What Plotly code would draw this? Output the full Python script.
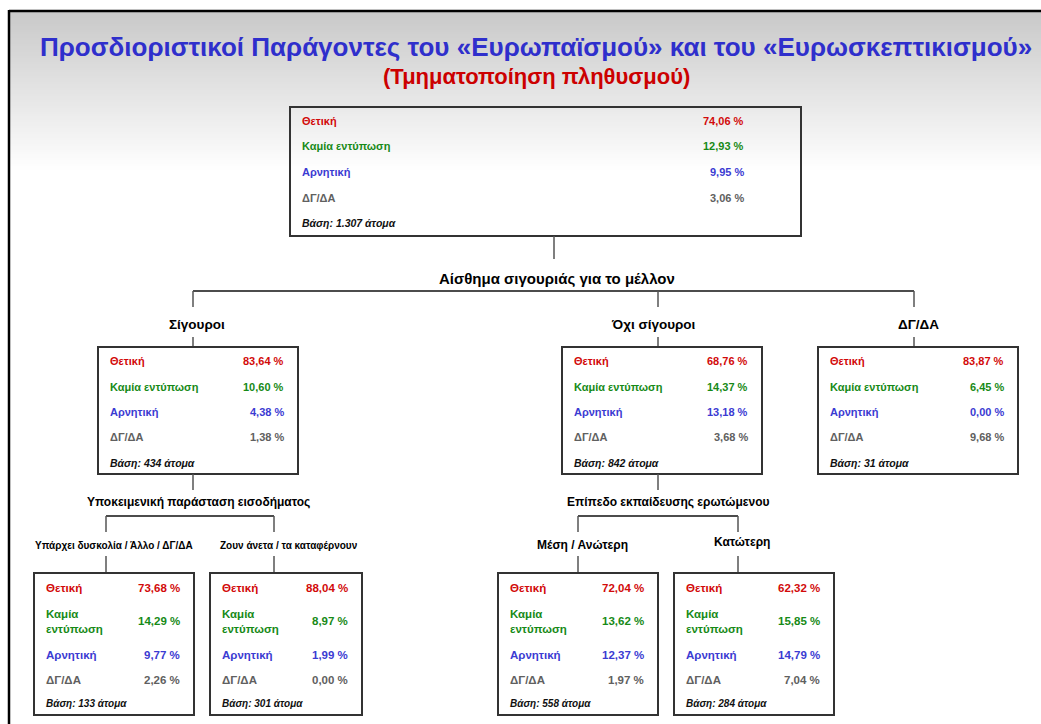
import plotly.graph_objects as go

# ---------------- data ----------------
categories = ["Θετική", "Καμία εντύπωση", "Αρνητική", "ΔΓ/ΔΑ"]
total = [74.06, 12.93, 9.95, 3.06]
sure = [83.64, 10.60, 4.38, 1.38]
not_sure = [68.76, 14.37, 13.18, 3.68]
dk_na = [83.87, 6.45, 0.00, 9.68]
income_difficulty = [73.68, 14.29, 9.77, 2.26]
income_comfortable = [88.04, 8.97, 1.99, 0.00]
edu_mid_high = [72.04, 13.62, 12.37, 1.97]
edu_low = [62.32, 15.85, 14.79, 7.04]
bases = [1307, 434, 842, 31, 133, 301, 558, 284]

title_text = "Προσδιοριστικοί Παράγοντες του «Ευρωπαϊσμού» και του «Ευρωσκεπτικισμού»"
subtitle_text = "(Τμηματοποίηση πληθυσμού)"
level1_title = "Αίσθημα σιγουριάς για το μέλλον"
level1_groups = ["Σίγουροι", "Όχι σίγουροι", "ΔΓ/ΔΑ"]
income_title = "Υποκειμενική παράσταση εισοδήματος"
income_groups = ["Υπάρχει δυσκολία / Άλλο / ΔΓ/ΔΑ", "Ζουν άνετα / τα καταφέρνουν"]
edu_title = "Επίπεδο εκπαίδευσης ερωτώμενου"
edu_groups = ["Μέση / Ανώτερη", "Κατώτερη"]

# ---------------- styling ----------------
FONT = "Arial, 'Liberation Sans', sans-serif"
cat_colors = ["#d20a0a", "#178a17", "#3b3bd2", "#606060"]
W, H = 1041, 724

fig = go.Figure()
fig.add_trace(go.Scatter(x=[0, W], y=[0, H], mode="markers",
                         marker=dict(opacity=0), hoverinfo="skip", showlegend=False))

shapes = []
annotations = []

# background gradient (grey to white) under the frame top
g_top, g_bot = 12, 172
n_bands = 80
for i in range(n_bands):
    t = i / (n_bands - 1)
    c = int(round(201 + (255 - 201) * t))
    y0 = g_top + (g_bot - g_top) * i / n_bands
    y1 = g_top + (g_bot - g_top) * (i + 1) / n_bands + 0.6
    shapes.append(dict(type="rect", xref="x", yref="y", x0=10, x1=W, y0=y0, y1=y1,
                       line=dict(width=0), fillcolor=f"rgb({c},{c},{c})", layer="below"))

# frame
shapes.append(dict(type="line", xref="x", yref="y", x0=9, x1=W, y0=11, y1=11,
                   line=dict(color="black", width=2.5)))
shapes.append(dict(type="line", xref="x", yref="y", x0=9, x1=9, y0=10, y1=H,
                   line=dict(color="black", width=2.5)))


def fmt_pct(v):
    return f"{v:.2f}".replace(".", ",") + " %"


def fmt_base(n):
    return f"{n:,}".replace(",", ".")


def add_text(x, y, text, size, color="black", xanchor="center", italic=False):
    t = f"<b>{text}</b>"
    if italic:
        t = f"<i>{t}</i>"
    annotations.append(dict(x=x, y=y, xref="x", yref="y", text=t, showarrow=False,
                            xanchor=xanchor, yanchor="middle",
                            align=xanchor if xanchor != "center" else "center",
                            font=dict(family=FONT, size=size, color=color)))


def add_line(x0, y0, x1, y1, color="#555555", width=1.5):
    shapes.append(dict(type="line", xref="x", yref="y", x0=x0, x1=x1, y0=y0, y1=y1,
                       line=dict(color=color, width=width)))


def add_box(x0, x1, y0, y1, vals, base, row_y, label_x, value_x, size, base_size,
            wrap=False, fill="white"):
    shapes.append(dict(type="rect", xref="x", yref="y", x0=x0, x1=x1, y0=y0, y1=y1,
                       line=dict(color="#333333", width=2), fillcolor=fill))
    for k, (cat, v) in enumerate(zip(categories, vals)):
        label = cat
        if wrap and " " in cat:
            label = cat.replace(" ", "<br>")
        add_text(label_x, row_y[k], label, size, cat_colors[k], xanchor="left")
        add_text(value_x, row_y[k], fmt_pct(v), size, cat_colors[k], xanchor="right")
    add_text(label_x, row_y[4], f"Βάση: {fmt_base(base)} άτομα", base_size, "#111111",
             xanchor="left", italic=True)


# titles
add_text(536, 47, title_text, 26, "#2f2fcc")
add_text(536, 76, subtitle_text, 22, "#cc0000")

# top box
add_box(290, 801, 107, 236, total, bases[0], [121, 146, 172, 198, 223], 300, 746, 11, 10.5,
        fill="rgba(0,0,0,0)")
add_line(554, 236, 554, 259)
add_text(557, 278, level1_title, 15)

# level-1 connectors
add_line(193, 291, 914, 291, color="#111111")
lvl1_x = [193, 658, 914]
lvl1_label_x = [197, 653, 918]
for cx, lx, name in zip(lvl1_x, lvl1_label_x, level1_groups):
    add_line(cx, 291, cx, 307)
    add_text(lx, 324, name, 13.5)
    add_line(cx, 337, cx, 347)

mid_boxes = [(98, 298), (562, 762), (818, 1018)]
mid_vals = [sure, not_sure, dk_na]
for (x0, x1), vals, b in zip(mid_boxes, mid_vals, bases[1:4]):
    add_box(x0, x1, 347, 474, vals, b, [361, 387, 412, 437, 463], x0 + 10, x1 - 12, 11, 10.5)

# second-level splits
add_line(193, 474, 193, 490)
add_line(658, 474, 658, 490)
add_text(198, 502, income_title, 12)
add_text(668, 502, edu_title, 12)
add_line(106, 516, 274, 516, color="#111111")
add_line(578, 516, 738, 516, color="#111111")

sub_x = [106, 274, 578, 738]
sub_label_x = [114, 289, 582, 742]
sub_names = income_groups + edu_groups
sub_sizes = [10, 10, 12, 12]
sub_label_y = [545, 545, 545, 542]
for cx, lx, ly, name, sz in zip(sub_x, sub_label_x, sub_label_y, sub_names, sub_sizes):
    add_line(cx, 516, cx, 532)
    add_text(lx, ly, name, sz)
    add_line(cx, 556, cx, 573)

bottom_boxes = [(34, 194), (210, 362), (498, 658), (674, 834)]
bottom_vals = [income_difficulty, income_comfortable, edu_mid_high, edu_low]
for (x0, x1), vals, b in zip(bottom_boxes, bottom_vals, bases[4:8]):
    add_box(x0, x1, 573, 715, vals, b, [588, 621, 655, 680, 703], x0 + 10, x1 - 12, 11.5, 10,
            wrap=True)

fig.update_layout(
    width=W, height=H,
    margin=dict(l=0, r=0, t=0, b=0),
    paper_bgcolor="white", plot_bgcolor="white",
    xaxis=dict(range=[0, W], visible=False, fixedrange=True),
    yaxis=dict(range=[H, 0], visible=False, fixedrange=True),
    shapes=shapes, annotations=annotations,
    showlegend=False,
)

fig.write_html("out.html", config=dict(displayModeBar=False),
               post_script="document.body.style.margin='0';document.body.style.overflow='hidden';")
